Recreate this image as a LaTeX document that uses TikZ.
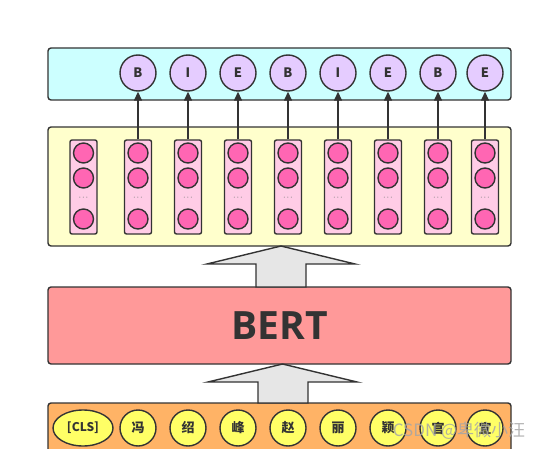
\documentclass[tikz,border=0pt]{standalone}
\usepackage{fontspec}
\setmainfont{Open Sans}
\newfontfamily\cjk{Noto Sans CJK SC}
\usetikzlibrary{shapes.geometric,arrows.meta,calc}
\definecolor{edge}{HTML}{333333}
\definecolor{cyanbox}{HTML}{CCFFFF}
\definecolor{lav}{HTML}{E5CCFF}
\definecolor{yelbox}{HTML}{FFFFCC}
\definecolor{colfill}{HTML}{FFCCE6}
\definecolor{dotpink}{HTML}{FF66B3}
\definecolor{bertred}{HTML}{FF9999}
\definecolor{arrgray}{HTML}{E6E6E6}
\definecolor{orangebox}{HTML}{FFB366}
\definecolor{tokyel}{HTML}{FFFF66}
\begin{document}
\begin{tikzpicture}[x=1pt,y=-1pt,line width=1.4pt,
  bigbox/.style={draw=edge,rounded corners=3pt,minimum width=463pt,inner sep=0pt},
  tag/.style={circle,draw=edge,fill=lav,minimum size=36pt,inner sep=0pt,font=\cjk\bfseries\fontsize{13}{13}\selectfont,text=edge},
  col/.style={draw=edge,fill=colfill,rounded corners=2pt,minimum width=27pt,minimum height=94pt,inner sep=0pt},
  unit/.style={circle,draw=edge,fill=dotpink,minimum size=20pt,inner sep=0pt},
  dots/.style={font=\fontsize{8}{8}\selectfont,text=gray,inner sep=0pt},
  tok/.style={circle,draw=edge,fill=tokyel,minimum size=36pt,inner sep=0pt,font=\cjk\bfseries\fontsize{13}{13}\selectfont,text=edge},
  arr/.style={draw=edge,-{Triangle[length=9pt,width=8pt]}},
  fat/.style={draw=edge,fill=arrgray,line join=miter}]
\useasboundingbox (0,0) rectangle (543,449);
\clip (0,0) rectangle (543,449);
% boxes
\node[bigbox,fill=cyanbox,minimum height=52pt] (outbox) at (279.5,74) {};
\node[bigbox,fill=yelbox,minimum height=119pt] (hidbox) at (279.5,186.5) {};
\node[bigbox,fill=bertred,minimum height=77pt,font=\bfseries\fontsize{39}{39}\selectfont,text=edge] (bert) at (279.5,325.5) {BERT};
\node[bigbox,fill=orangebox,minimum height=80pt] (inbox) at (279.5,443) {};
% hidden columns
\foreach \i/\x in {1/83.5,2/138,3/188,4/238,5/288,6/338,7/388,8/438,9/485}{
  \node[col] (c\i) at (\x,187) {};
  \node[unit] (u\i a) at (\x,153) {};
  \node[unit] (u\i b) at (\x,178) {};
  \node[dots] (d\i) at (\x,199) {·\,·\,·};
  \node[unit] (u\i c) at (\x,219) {};
}
% output tags
\foreach \i/\x/\t in {2/138/B,3/188/I,4/238/E,5/288/B,6/338/I,7/388/E,8/438/B,9/485/E}{
  \node[tag] (o\i) at (\x,73) {\t};
  \draw[arr] (c\i.north) -- (o\i.south);
}
% big arrows
\coordinate (t1) at (281,246);
\draw[fat] (t1) -- ++(74,18) -- ++(-49,0) -- (306,287) -- (256,287) -- (256,264) -- (207,264) -- cycle;
\coordinate (t2) at (282.5,364);
\draw[fat] (t2) -- ++(74.5,18) -- ++(-49,0) -- (308,403) -- (258,403) -- (258,382) -- (208,382) -- cycle;
% tokens
\node[ellipse,draw=edge,fill=tokyel,minimum width=60pt,minimum height=36pt,inner sep=0pt,font=\cjk\bfseries\fontsize{12}{12}\selectfont,text=edge] (cls) at (83,428) {[CLS]};
\foreach \i/\x/\t in {1/138/冯,2/188/绍,3/238/峰,4/288/赵,5/338/丽,6/388/颖,7/438/官,8/485/宣}{
  \node[tok] (w\i) at (\x,428) {\t};
}
% watermark
\node[font=\cjk\fontsize{17}{17}\selectfont,text=gray!70,opacity=0.85,inner sep=0pt] (wm) at (459,431) {CSDN @卑微小汪};
\end{tikzpicture}
\end{document}
